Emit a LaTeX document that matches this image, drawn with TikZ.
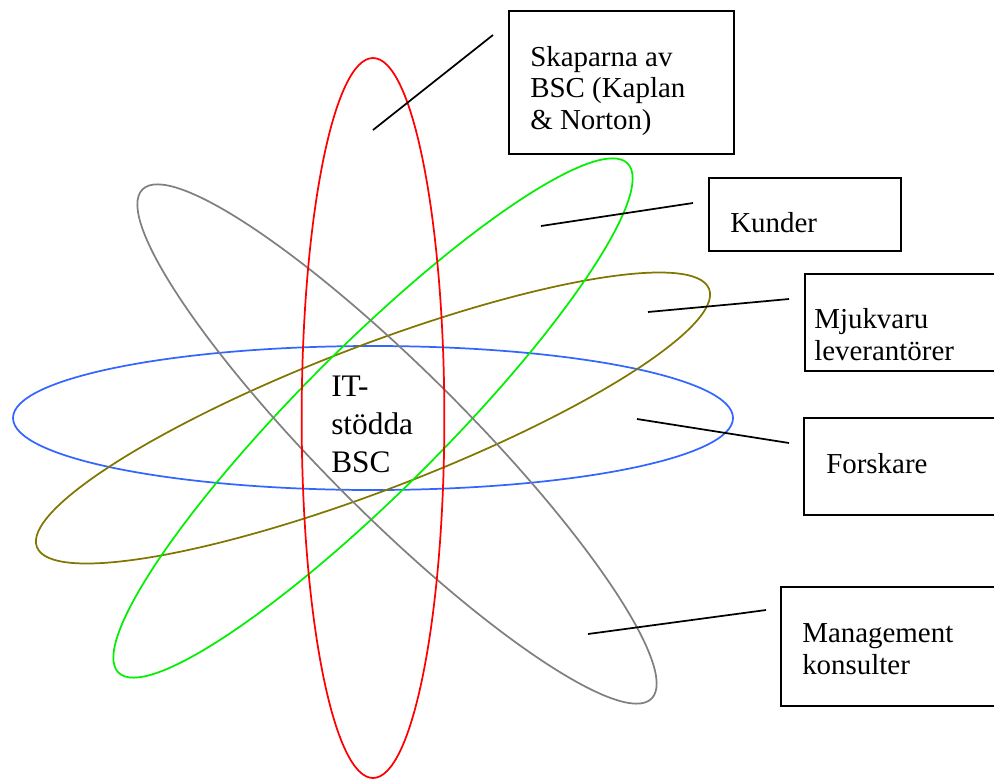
\documentclass[tikz,border=0pt]{standalone}
\usepackage{fontspec}
\setmainfont{Liberation Serif}
\begin{document}
\begin{tikzpicture}[x=0.75pt,y=-0.75pt,
  orbit/.style={line width=1.3pt},
  labelbox/.style={draw,line width=1.3pt},
  leader/.style={draw,line width=1.3pt},
  labeltext/.style={anchor=base west,inner sep=0pt,align=left,
    font=\fontsize{21.7}{23.6}\selectfont}]
\useasboundingbox (0,0) rectangle (994,778);
\clip (0,0) rectangle (994,778);
\definecolor{orbitred}{RGB}{255,0,0}
\definecolor{orbitgreen}{RGB}{0,240,0}
\definecolor{orbitolive}{RGB}{128,118,0}
\definecolor{orbitgray}{RGB}{128,128,128}
\definecolor{orbitblue}{RGB}{51,102,255}

% centres of the five orbits
\coordinate (c) at (373,418);
\coordinate (cg) at (397,444);

% orbits
\draw[orbit,orbitblue] (c) ellipse [x radius=270pt,y radius=54pt];
\draw[orbit,orbitolive,rotate around={21:(c)}] (c) ellipse [x radius=270pt,y radius=54pt];
\draw[orbit,orbitgreen,rotate around={45:(c)}] (c) ellipse [x radius=270pt,y radius=54pt];
\draw[orbit,orbitgray,rotate around={-45:(cg)}] (cg) ellipse [x radius=270pt,y radius=54pt];
\draw[orbit,orbitred] (c) ellipse [x radius=53.5pt,y radius=270pt];

% centre label (anchored at the baseline of its last line)
\node[labeltext,font=\fontsize{23.5}{28.3}\selectfont] (core) at (331,472) {IT-\\stödda\\BSC};

% label boxes (multi-line texts anchored at the last baseline)
\draw[labelbox] (509,11) rectangle (734,154);
\node[labeltext] (skap) at (530,129) {Skaparna av\\BSC (Kaplan\\\& Norton)};
\draw[labelbox] (709,178) rectangle (901,251);
\node[labeltext] (kund) at (730,232) {Kunder};
\draw[labelbox] (805,274) rectangle (1000,371);
\node[labeltext] (mjuk) at (814,360) {Mjukvaru\\leverantörer};
\draw[labelbox] (804,418) rectangle (1000,515);
\node[labeltext] (fors) at (826,473) {Forskare};
\draw[labelbox] (781,587) rectangle (1000,706);
\node[labeltext] (mgmt) at (802,674) {Management\\konsulter};

% leader lines
\coordinate (s1) at (373,130); \coordinate (s2) at (493,35);
\coordinate (k1) at (541,226); \coordinate (k2) at (693,203);
\coordinate (m1) at (648,312); \coordinate (m2) at (789,299);
\coordinate (f1) at (637,419); \coordinate (f2) at (789,443);
\coordinate (g1) at (588,634); \coordinate (g2) at (766,610);
\draw[leader] (s1) -- (s2);
\draw[leader] (k1) -- (k2);
\draw[leader] (m1) -- (m2);
\draw[leader] (f1) -- (f2);
\draw[leader] (g1) -- (g2);
\end{tikzpicture}
\end{document}
